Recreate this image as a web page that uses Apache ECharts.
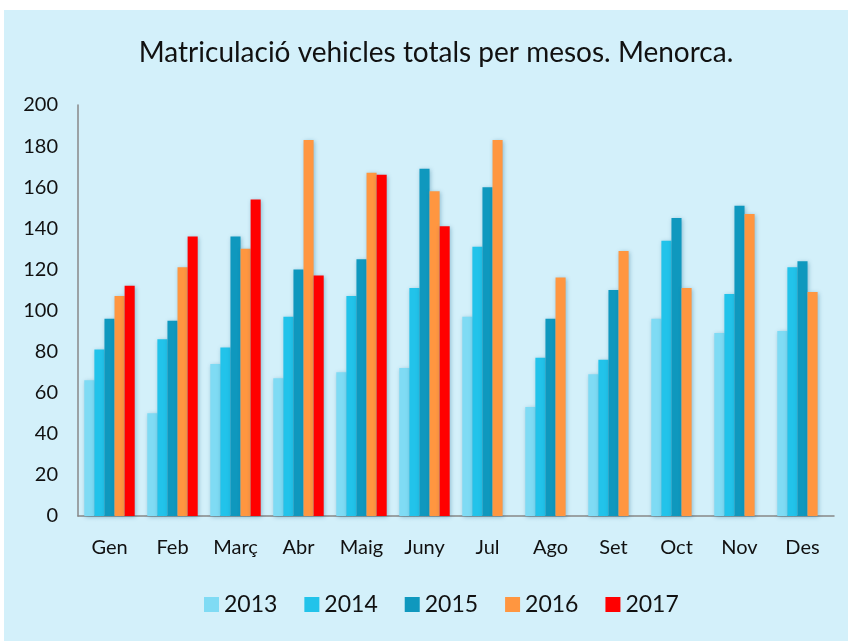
<!DOCTYPE html>
<html>
<head>
<meta charset="utf-8">
<script src="https://cdn.jsdelivr.net/npm/echarts@6/dist/echarts.min.js"></script>
<style>
  html, body { margin: 0; padding: 0; background: #ffffff; width: 848px; height: 641px; overflow: hidden; }
  #chart { position: absolute; left: 4px; top: 10px; width: 844px; height: 631px; }
</style>
</head>
<body>
<div id="chart"></div>
<script>
const titleText = 'Matriculació vehicles totals per mesos. Menorca.';
const months = ['Gen', 'Feb', 'Març', 'Abr', 'Maig', 'Juny', 'Jul', 'Ago', 'Set', 'Oct', 'Nov', 'Des'];
const years = ['2013', '2014', '2015', '2016', '2017'];
const v2013 = [66, 50, 74, 67, 70, 72, 97, 53, 69, 96, 89, 90];
const v2014 = [81, 86, 82, 97, 107, 111, 131, 77, 76, 134, 108, 121];
const v2015 = [96, 95, 136, 120, 125, 169, 160, 96, 110, 145, 151, 124];
const v2016 = [107, 121, 130, 183, 167, 158, 183, 116, 129, 111, 147, 109];
const v2017 = [112, 136, 154, 117, 166, 141, null, null, null, null, null, null];
const yTicks = { min: 0, max: 200, interval: 20 };
const colors = ['#7fdbf4', '#22c3ea', '#0f98be', '#ff9640', '#ff0000'];

const seriesValues = [v2013, v2014, v2015, v2016, v2017];
const font = 'Lato, "Open Sans", sans-serif';

const chart = echarts.init(document.getElementById('chart'), null, { renderer: 'canvas' });
chart.setOption({
  backgroundColor: '#d3f0fa',
  animation: false,
  title: {
    text: titleText,
    left: 427,
    textAlign: 'center',
    top: 24,
    textStyle: { fontFamily: font, fontSize: 28, fontWeight: 'normal', color: '#111111' }
  },
  legend: {
    data: years,
    bottom: 20,
    left: 195,
    itemWidth: 15,
    itemHeight: 15,
    itemGap: 27,
    icon: 'rect',
    textStyle: { fontFamily: font, fontSize: 23, color: '#111111' }
  },
  grid: { left: 74, right: 14, top: 95, bottom: 125, containLabel: false },
  xAxis: {
    type: 'category',
    data: months,
    axisLine: { lineStyle: { color: '#888888', width: 1.5 } },
    axisTick: { show: false },
    axisLabel: { fontFamily: font, fontSize: 20, color: '#111111', margin: 22 }
  },
  yAxis: {
    type: 'value',
    min: yTicks.min,
    max: yTicks.max,
    interval: yTicks.interval,
    axisLine: { show: true, lineStyle: { color: '#888888', width: 1.5 } },
    axisTick: { show: false },
    splitLine: { show: false },
    axisLabel: { fontFamily: font, fontSize: 20, color: '#111111', margin: 20 }
  },
  series: years.map((y, i) => ({
    name: y,
    type: 'bar',
    data: seriesValues[i],
    barGap: '0%',
    barCategoryGap: '20%',
    itemStyle: {
      color: colors[i],
      shadowBlur: 4,
      shadowColor: 'rgba(0,90,130,0.35)',
      shadowOffsetX: 1,
      shadowOffsetY: 1
    }
  }))
});
</script>
</body>
</html>
